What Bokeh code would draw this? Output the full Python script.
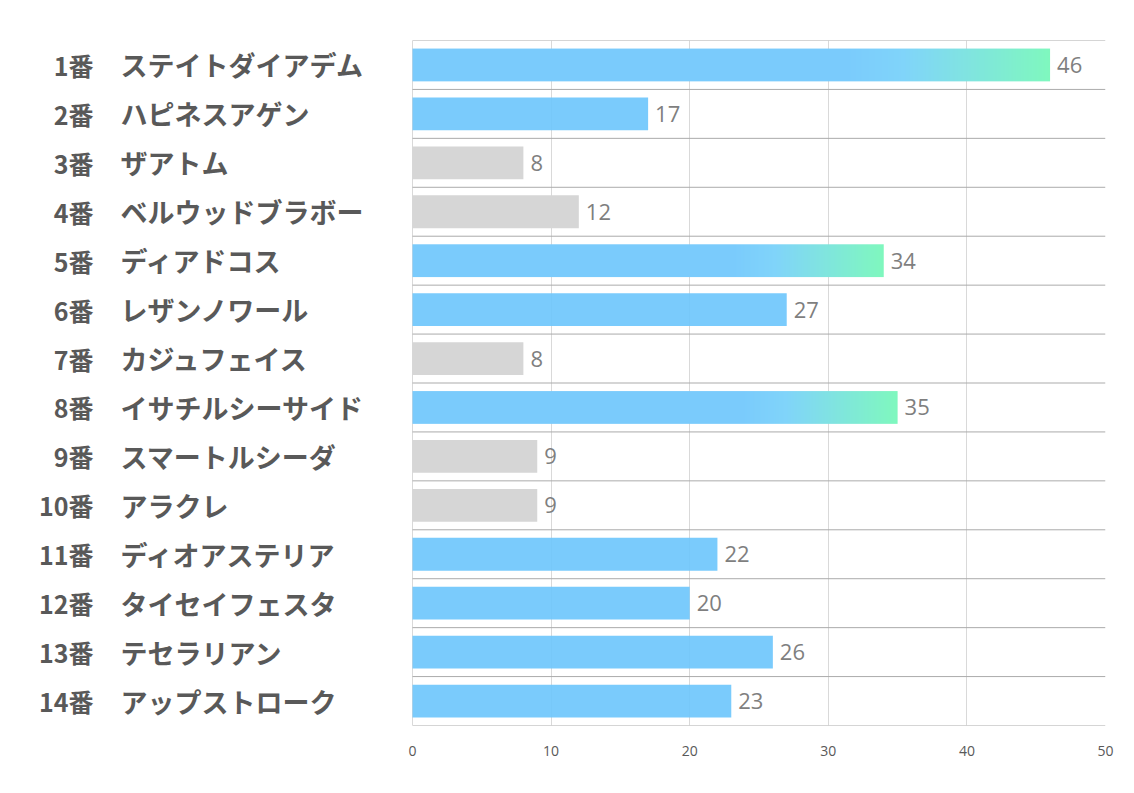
import numpy as np
from bokeh.plotting import figure
from bokeh.models import ColumnDataSource, Range1d, FixedTicker
from bokeh.core.properties import value
from bokeh.embed import file_html
from bokeh.resources import INLINE

numbers = ["1番", "2番", "3番", "4番", "5番", "6番", "7番", "8番", "9番", "10番",
           "11番", "12番", "13番", "14番"]
names = ["ステイトダイアデム", "ハピネスアゲン", "ザアトム", "ベルウッドブラボー", "ディアドコス",
         "レザンノワール", "カジュフェイス", "イサチルシーサイド", "スマートルシーダ", "アラクレ",
         "ディオアステリア", "タイセイフェスタ", "テセラリアン", "アップストローク"]
values = [46, 17, 8, 12, 34, 27, 8, 35, 9, 9, 22, 20, 26, 23]
x_ticks = [0, 10, 20, 30, 40, 50]

n = len(values)
rows = list(range(1, n + 1))

BLUE = "#6BC5FC"
GRAY = "#D6D6D6"
top3 = sorted(values, reverse=True)[:3]
BAR_H = 0.67

# layout (px, figure origin)
W, H = 1118, 777
frame_left_px, zero_px, right_px = 10, 412, 1105
top_px, bottom_px = 40, 725
x_start = -50 * (zero_px - frame_left_px) / (right_px - zero_px)

p = figure(width=W, height=H, output_backend="svg", toolbar_location=None,
           x_range=Range1d(x_start, 50), y_range=Range1d(n + 0.5, 0.5),
           min_border_left=frame_left_px, min_border_right=W - right_px,
           min_border_top=top_px, min_border_bottom=H - bottom_px)
p.outline_line_color = None
p.background_fill_color = "white"
p.border_fill_color = "white"

# axes
p.yaxis.visible = False
p.xaxis.ticker = FixedTicker(ticks=x_ticks)
p.xaxis.bounds = (0, 50)
p.xaxis.axis_line_color = None
p.xaxis.major_tick_line_color = None
p.xaxis.minor_tick_line_color = None
p.xaxis.major_label_text_font = "Open Sans"
p.xaxis.major_label_text_font_size = "14px"
p.xaxis.major_label_text_color = "#595959"
p.xaxis.major_label_standoff = 14

p.xgrid.ticker = FixedTicker(ticks=x_ticks)
p.xgrid.bounds = (0, 50)
p.xgrid.grid_line_color = "#D9D9D9"
p.ygrid.visible = False

# row separators
seps = [r - 0.5 for r in rows] + [n + 0.5]
p.segment(x0=[0] * len(seps), x1=[50] * len(seps), y0=seps, y1=seps,
          line_color="#ABABAB", line_width=1)

# plain bars (top-3 bars are drawn as gradient images below)
plain = [i for i, v in enumerate(values) if v not in top3]
src = ColumnDataSource(dict(
    y=[rows[i] for i in plain],
    v=[values[i] for i in plain],
    c=[GRAY if values[i] < 15 else BLUE for i in plain],
    a=[1.0 if values[i] < 15 else 0.9 for i in plain],
))
p.hbar(y="y", left=0, right="v", height=BAR_H, fill_color="c", fill_alpha="a",
       line_color=None, source=src)

# gradient for the top-3 bars (pre-composited colours)
stops_f = [0.0, 0.68, 0.77, 1.0]
stops_c = np.array([(122, 203, 252), (122, 203, 252), (128, 212, 250), (127, 248, 190)], float)
NPIX = 400
f = (np.arange(NPIX) + 0.5) / NPIX
rgb = np.stack([np.interp(f, stops_f, stops_c[:, k]) for k in range(3)], axis=1)
img = np.zeros((1, NPIX), dtype=np.uint32)
view = img.view(dtype=np.uint8).reshape((1, NPIX, 4))
view[0, :, 0] = np.round(rgb[:, 0]).astype(np.uint8)
view[0, :, 1] = np.round(rgb[:, 1]).astype(np.uint8)
view[0, :, 2] = np.round(rgb[:, 2]).astype(np.uint8)
view[0, :, 3] = 255

top_rows = [r for r, v in zip(rows, values) if v in top3]
top_vals = [v for v in values if v in top3]
p.image_rgba(image=[img] * len(top_rows), x=[0] * len(top_rows),
             y=[r - BAR_H / 2 for r in top_rows], dw=top_vals, dh=[BAR_H] * len(top_rows))

# value labels
p.text(x=values, y=rows, text=[str(v) for v in values], x_offset=7,
       text_font=value("Open Sans"), text_font_size="22px", text_color="#7F7F7F",
       text_align="left", text_baseline="middle")

# category labels
p.text(x=[0] * n, y=rows, text=numbers, x_offset=-(zero_px - 93),
       text_font=value("Noto Sans CJK JP"), text_font_size="25px", text_font_style="bold",
       text_color="#595959", text_align="right", text_baseline="middle")
p.text(x=[0] * n, y=rows, text=names, x_offset=-(zero_px - 120),
       text_font=value("Noto Sans CJK JP"), text_font_size="27px", text_font_style="bold",
       text_color="#595959", text_align="left", text_baseline="middle")

open("out.html", "w").write(file_html(p, INLINE))
